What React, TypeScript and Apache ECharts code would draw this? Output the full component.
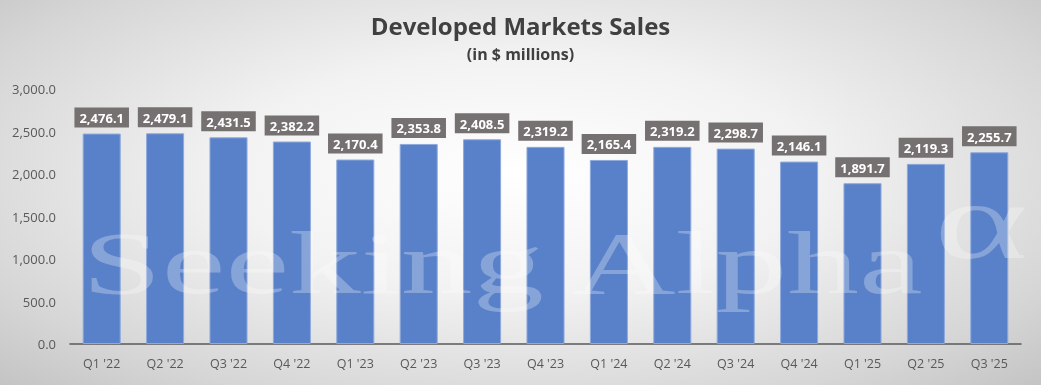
import React, { useEffect, useRef } from "react";
import * as echarts from "echarts";

const categories = ["Q1 '22", "Q2 '22", "Q3 '22", "Q4 '22", "Q1 '23", "Q2 '23", "Q3 '23", "Q4 '23", "Q1 '24", "Q2 '24", "Q3 '24", "Q4 '24", "Q1 '25", "Q2 '25", "Q3 '25"];
const sales = [2476.1, 2479.1, 2431.5, 2382.2, 2170.4, 2353.8, 2408.5, 2319.2, 2165.4, 2319.2, 2298.7, 2146.1, 1891.7, 2119.3, 2255.7];

const fmt = (v: number) =>
  v.toLocaleString("en-US", { minimumFractionDigits: 1, maximumFractionDigits: 1 });

export default function App() {
  const ref = useRef<HTMLDivElement>(null);
  useEffect(() => {
    if (!ref.current) return;
    const chart = echarts.init(ref.current, undefined, { renderer: "svg" });
    const wmFill = "rgba(255,255,255,0.28)";
    chart.setOption({
      animation: false,
      title: {
        text: "Developed Markets Sales",
        subtext: "(in $ millions)",
        left: "center",
        top: 8,
        itemGap: 9,
        textStyle: { fontFamily: "Open Sans", fontWeight: "bold", fontSize: 24, color: "#404040" },
        subtextStyle: { fontFamily: "Open Sans", fontWeight: "bold", fontSize: 16, color: "#404040" },
      },
      grid: { left: 70, right: 20, top: 89, bottom: 41, containLabel: false },
      xAxis: {
        type: "category",
        data: categories,
        axisTick: { show: false },
        axisLine: { lineStyle: { color: "#595959", width: 1.5 } },
        axisLabel: { color: "#595959", fontSize: 12.5, fontFamily: "Open Sans", margin: 13 },
      },
      yAxis: {
        type: "value",
        min: 0,
        max: 3000,
        interval: 500,
        splitLine: { show: false },
        axisLine: { show: false },
        axisTick: { show: false },
        axisLabel: { color: "#595959", fontSize: 13, fontFamily: "Open Sans", margin: 14, formatter: (v: number) => fmt(v) },
      },
      series: [
        {
          type: "bar",
          data: sales,
          barCategoryGap: "40%",
          itemStyle: { color: "#5981c9", borderColor: "#8fa9dc", borderWidth: 1 },
          label: {
            show: true,
            position: "top",
            distance: 6,
            formatter: (p: any) => fmt(p.value),
            backgroundColor: "#767171",
            color: "#ffffff",
            fontWeight: "bold",
            fontSize: 13,
            fontFamily: "Noto Sans",
            padding: [4, 5, 3, 5],
          },
        },
      ],
      graphic: [
        {
          type: "text",
          x: 82,
          y: 263,
          scaleX: 1.63,
          z: 100,
          silent: true,
          style: {
            text: "Seeking Alpha",
            font: "88px 'Liberation Serif', serif",
            fill: wmFill,
            verticalAlign: "middle",
          },
        },
        {
          type: "text",
          x: 934,
          y: 221,
          scaleX: 1.63,
          z: 100,
          silent: true,
          style: {
            text: "α",
            font: "110px 'Liberation Serif', serif",
            fill: wmFill,
            verticalAlign: "middle",
          },
        },
      ],
    });
    return () => chart.dispose();
  }, []);
  return (
    <div
      ref={ref}
      style={{
        position: "fixed",
        left: 0,
        top: 0,
        width: 1041,
        height: 385,
        background: "radial-gradient(ellipse at 50% 45%, #ffffff 0%, #f2f2f2 40%, #d6d6d6 80%, #c4c4c4 100%)",
      }}
    />
  );
}
